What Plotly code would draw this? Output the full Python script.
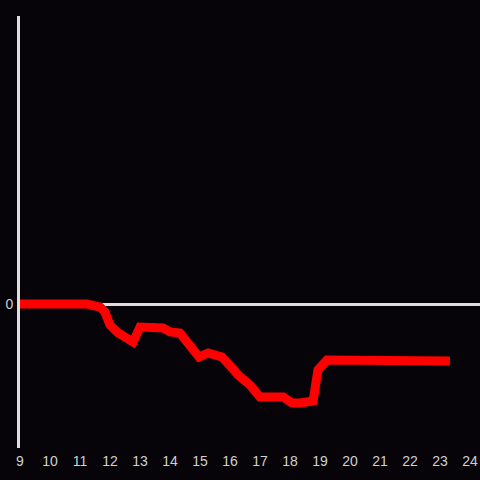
import plotly.graph_objects as go

hours = [9.0, 11.23, 11.67, 11.83, 12.0, 12.27, 12.77, 13.0, 13.77, 14.0, 14.33,
         14.97, 15.27, 15.73, 16.07, 16.27, 16.67, 17.0, 17.77, 18.07, 18.33,
         18.77, 18.93, 19.23, 23.33]
values = [0.0, 0.0, -0.021, -0.056, -0.146, -0.201, -0.264, -0.160, -0.167, -0.194, -0.201,
          -0.368, -0.340, -0.368, -0.444, -0.493, -0.563, -0.646, -0.646, -0.688, -0.688,
          -0.674, -0.458, -0.389, -0.396]
x_ticks = list(range(9, 25))

fig = go.Figure()
fig.add_trace(go.Scatter(x=hours, y=values, mode="lines",
                         line=dict(color="#ff0000", width=9), hoverinfo="skip"))

bg = "#060408"
fig.update_layout(
    width=480, height=480,
    paper_bgcolor=bg, plot_bgcolor=bg,
    margin=dict(l=20, r=0, t=16, b=32),
    showlegend=False,
    font=dict(family="Liberation Sans, Arial, sans-serif", size=14, color="#d0d0d0"),
    xaxis=dict(range=[9, 24.333], tickvals=x_ticks, ticktext=[str(t) for t in x_ticks],
               showgrid=False, zeroline=False, showline=False, ticks="",
               ticklabelstandoff=3),
    yaxis=dict(range=[-1, 2], tickvals=[0], ticktext=["0"], showgrid=False,
               zeroline=True, zerolinecolor="#dddddd", zerolinewidth=3,
               showline=True, linecolor="#dddddd", linewidth=3, ticks="",
               ticklabelstandoff=1),
)
fig.write_html("out.html", config={"displayModeBar": False},
               post_script="document.body.style.margin='0';document.body.style.background='#060408';")
